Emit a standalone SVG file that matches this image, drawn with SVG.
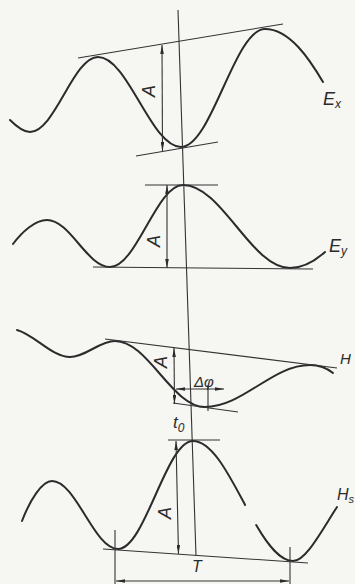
<svg xmlns="http://www.w3.org/2000/svg" width="355" height="584" viewBox="0 0 355 584">
<defs>
<marker id="ah" markerUnits="userSpaceOnUse" viewBox="0 0 10 4" refX="10" refY="2" markerWidth="9" markerHeight="3.6" orient="auto-start-reverse">
<path d="M0,0 L10,2 L0,4 z" fill="#2b2b2b"/>
</marker>
<style>
.bg{fill:#f6f6f3}
.wave{fill:none;stroke:#2b2b2b;stroke-width:2;stroke-linecap:round}
.ln{fill:none;stroke:#333;stroke-width:1.1}
.dim{fill:none;stroke:#333;stroke-width:1.1;marker-start:url(#ah);marker-end:url(#ah)}
.lbl{font-family:"Liberation Sans",Arial,sans-serif;font-style:italic;fill:#2b2b2b}
</style>
</defs>
<rect class="bg" x="0" y="0" width="355" height="584"/>

<g id="connectors">
<line id="time-axis" class="ln" x1="178" y1="10" x2="196" y2="556"/>
</g>

<g id="Ex">
<path class="wave" d="M10,120 C17,127 24,132 30,132 C54.8,132 73.2,57 98,57 C128,57 151,147 181,147 C211.6,147 234.4,29 265,29 C290,29 310,60 323,82"/>
<line class="ln" x1="78" y1="58" x2="283" y2="24"/>
<line class="ln" x1="136" y1="156" x2="218" y2="142"/>
<line class="dim" x1="162" y1="45" x2="162.5" y2="151"/>
<text class="lbl" font-size="18" transform="translate(155,91) rotate(-90)" text-anchor="middle">A</text>
<text class="lbl" font-size="18" x="323" y="105">E<tspan font-size="12" dy="3">x</tspan></text>
</g>

<g id="Ey">
<path class="wave" d="M13,244 C22,232 35,220 47,220 C70,220 87,267 110,267 C136.6,267 156.4,185 183,185 C222,185 251,268 290,268 C305,268 316,260 325,252"/>
<line class="ln" x1="145" y1="185" x2="218" y2="185"/>
<line class="ln" x1="93" y1="267" x2="313" y2="269"/>
<line class="dim" x1="167" y1="185" x2="167" y2="268"/>
<text class="lbl" font-size="18" transform="translate(160,241) rotate(-90)" text-anchor="middle">A</text>
<text class="lbl" font-size="18" x="329" y="252">E<tspan font-size="12" dy="3">y</tspan></text>
</g>

<g id="Hx">
<path class="wave" d="M17,330 C35,335 52,357 70,357 C86,357 99,341 115,341 C148,341 172,407 205,407 C243,407 272,365 310,365 C320,365 328,369 333,373"/>
<line class="ln" x1="105" y1="339" x2="337" y2="368"/>
<line class="ln" x1="173" y1="403" x2="238" y2="412"/>
<line class="dim" x1="174" y1="348" x2="174.5" y2="404"/>
<line class="ln" x1="208" y1="385" x2="208" y2="411"/>
<line class="dim" x1="176" y1="389" x2="224" y2="389"/>
<text class="lbl" font-size="18" transform="translate(167,362) rotate(-90)" text-anchor="middle">A</text>
<text class="lbl" font-size="15" x="194" y="387">Δφ</text>
<text class="lbl" font-size="15" x="340" y="364">H</text>
<text class="lbl" font-size="17" x="173" y="428">t<tspan font-size="12" dy="4">0</tspan></text>
</g>

<g id="Hs">
<path class="wave" d="M22,521 C30,500 42,481 52,481 C76,481 94,549 118,549 C145,549 166,441 193,441 C211.79,441 228.41,473.7 245.11,504.96"/>
<path class="wave" d="M256.2,525.04 C267.92,545.19 279.93,561 293,561 C306,561 322,530 337,507"/>
<line class="ln" x1="168" y1="440" x2="220" y2="440"/>
<line class="ln" x1="103" y1="549" x2="308" y2="563"/>
<line class="dim" x1="176" y1="441" x2="178.5" y2="554"/>
<line class="ln" x1="115" y1="530" x2="115" y2="584"/>
<line class="ln" x1="290" y1="547" x2="290" y2="584"/>
<line class="dim" x1="116" y1="581" x2="289" y2="581"/>
<text class="lbl" font-size="18" transform="translate(171,513) rotate(-90)" text-anchor="middle">A</text>
<text class="lbl" font-size="16" x="192" y="572">T</text>
<text class="lbl" font-size="16" x="337" y="500">H<tspan font-size="11" dy="3">s</tspan></text>
</g>
</svg>
